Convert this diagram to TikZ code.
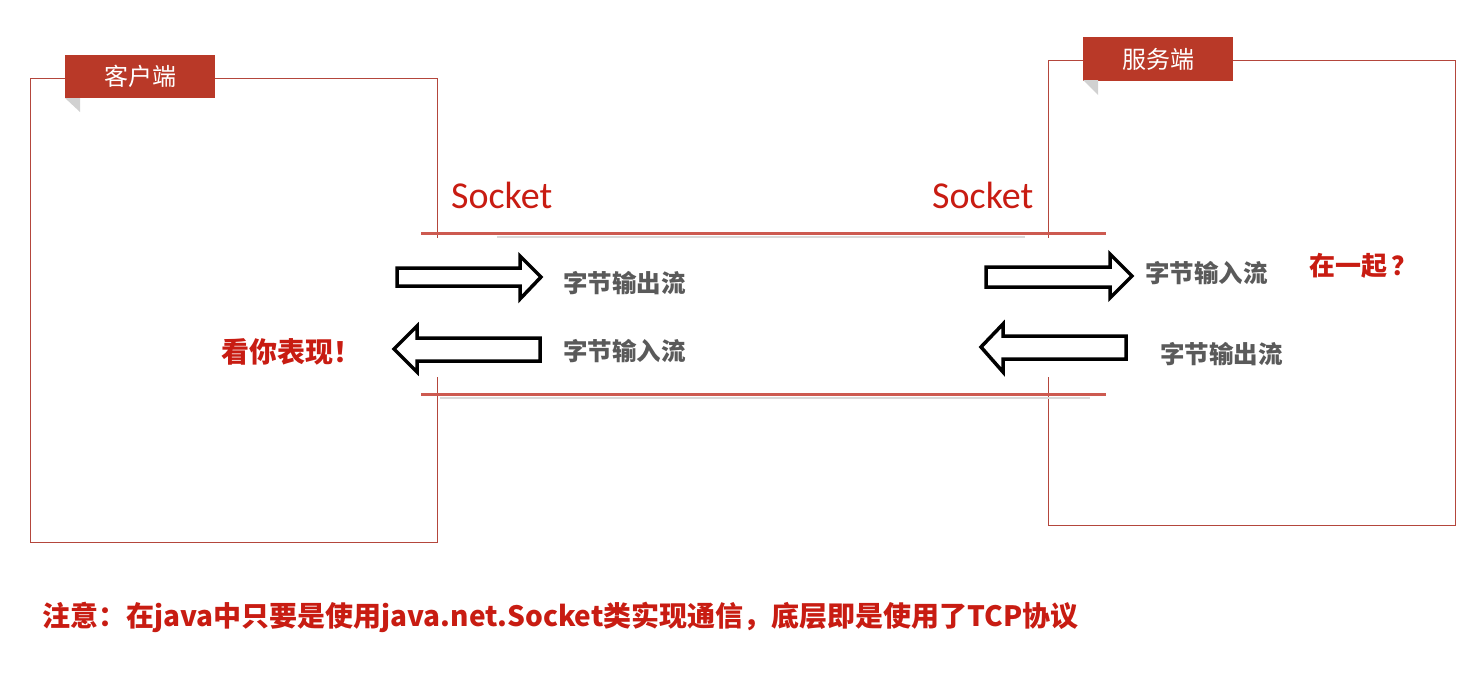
\documentclass[tikz,border=0pt]{standalone}
\usepackage{fontspec}
\setmainfont{Carlito}
\newfontfamily\cjk{Noto Sans CJK SC}
\usetikzlibrary{positioning}
\definecolor{TabRed}{RGB}{185,57,40}
\definecolor{EdgeRed}{RGB}{180,70,60}
\definecolor{LineRed}{RGB}{205,90,80}
\definecolor{TextRed}{RGB}{200,28,18}
\definecolor{TextGray}{RGB}{90,90,90}

\begin{document}
\begin{tikzpicture}[
  x=1pt,y=-1pt,
  frame/.style={draw=EdgeRed,line width=0.8pt},
  tab/.style={rectangle,fill=TabRed,text=white,minimum width=150pt,minimum height=43pt,inner sep=0pt,font=\cjk\fontsize{24}{24}\selectfont},
  fold/.style={fill=black!18},
  sockline/.style={draw=LineRed,line width=3pt},
  sockshadow/.style={draw=black!15,line width=2pt},
  socklabel/.style={inner sep=0pt,anchor=west,text=TextRed,font=\fontsize{38}{38}\selectfont},
  stream/.style={inner sep=0pt,anchor=west,text=TextGray,font=\cjk\bfseries\fontsize{24.5}{24.5}\selectfont},
  remark/.style={inner sep=0pt,anchor=west,text=TextRed,font=\cjk\bfseries\fontsize{28}{28}\selectfont},
  blockarr/.style={draw=black,fill=white,line width=3.5pt,line join=miter}
]
\useasboundingbox (0,0) rectangle (1482,677);
% two ends
\draw[frame] (30,78) rectangle (437,542);
\draw[frame] (1048,60) rectangle (1455,525);
\fill[white] (425,238) rectangle (1100,377);
\node[tab] (clienttab) at (140,76.5) {客户端};
\fill[fold] (65,98) -- (80,98) -- (80,112) -- cycle;
\node[tab] (servertab) at (1158,59) {服务端};
\fill[fold] (1083,80) -- (1098,80) -- (1098,95) -- cycle;
% socket lines
\draw[sockshadow] (497,237) -- (1025,237);
\draw[sockline] (421,233) -- (1106,233);
\draw[sockshadow] (440,398) -- (1090,398);
\draw[sockline] (421,394) -- (1106,394);
\node[socklabel] (leftsock) at (451,195) {Socket};
\node[socklabel] (rightsock) at (932,195) {Socket};
% client streams
\draw[blockarr] (397,268) -- (520,268) -- (520,256) -- (541,277) -- (520,299) -- (520,286) -- (397,286) -- cycle;
\draw[blockarr] (394,349) -- (417,326) -- (417,338) -- (540,338) -- (540,361) -- (417,361) -- (417,372) -- cycle;
\node[stream] (clientout) at (563,283) {字节输出流};
\node[stream] (clientin) at (563,351) {字节输入流};
\node[remark] (showme) at (221,352) {看你表现！};
% server streams
\draw[blockarr] (986,267) -- (1110,267) -- (1110,254) -- (1132,276) -- (1110,298) -- (1110,287) -- (986,287) -- cycle;
\draw[blockarr] (981,347) -- (1003,324) -- (1003,336) -- (1126,336) -- (1126,359) -- (1003,359) -- (1003,372) -- cycle;
\node[stream] (serverin) at (1145,273) {字节输入流};
\node[stream] (serverout) at (1160,354) {字节输出流};
\node[remark,font=\cjk\bfseries\fontsize{26}{26}\selectfont] (together) at (1309,266) {在一起\,？};
% note
\node[remark] (note) at (42,617) {注意：在java中只要是使用java.net.Socket类实现通信，底层即是使用了TCP协议};
\end{tikzpicture}
\end{document}
